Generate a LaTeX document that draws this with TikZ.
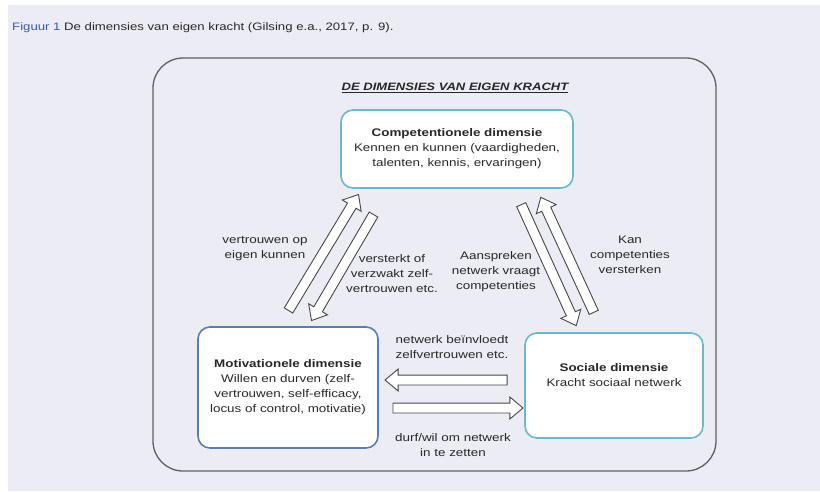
\documentclass[tikz,border=0pt]{standalone}
\usepackage{fontspec}
\setmainfont{Liberation Sans}[FakeStretch=1.22]
\usetikzlibrary{calc, shapes.arrows}

\definecolor{pagebg}{RGB}{236,236,245}
\definecolor{framegray}{RGB}{95,95,102}
\definecolor{cyanedge}{RGB}{104,186,206}
\definecolor{blueedge}{RGB}{84,128,182}
\definecolor{inkgray}{RGB}{40,40,40}
\definecolor{arrowgray}{RGB}{70,70,75}
\definecolor{figblue}{RGB}{60,90,170}

\tikzset{
	dimbox/.style = {draw, rounded corners = 12pt, line width = 1.6pt, fill = white, align = center, text = inkgray, font = \fontsize{11}{15}\selectfont},
	dimlabel/.style = {align = center, text = inkgray, font = \fontsize{11}{15}\selectfont, inner sep = 0pt},
	fat arrow/.style = {single arrow, draw = arrowgray, fill = white, line width = 0.9pt, inner xsep = 0pt, inner ysep = 4.5pt, single arrow head extend = 6pt, single arrow tip angle = 80, single arrow head indent = 0pt}
}

% block arrow from #1 to #2
\newcommand{\fatarrow}[2]{%
	\path let \p1 = ($ (#2) - (#1) $), \n1 = {atan2(\y1,\x1)}, \n2 = {veclen(\x1,\y1)} in
		node [fat arrow, minimum height = \n2, rotate = \n1] at ($ (#1)!0.5!(#2) $) {};}

\begin{document}
\begin{tikzpicture}[x = 1pt, y = -1pt]
		\useasboundingbox (0,0) rectangle (820,491);
		\fill [pagebg] (8,5) rectangle (820,491);
		
		\node (caption) [anchor = west, inner sep = 0pt, font = \fontsize{10.8}{13}\selectfont, text = inkgray] at (12,28) {\textcolor{figblue}{Figuur 1} De dimensies van eigen kracht (Gilsing e.a., 2017, p. 9).};
		
		\draw [framegray, line width = 1.3pt, rounded corners = 30pt] (153,58) rectangle (716,471);
		\node (title) [inner sep = 0pt, text = inkgray, font = \fontsize{10.7}{13}\selectfont\bfseries\itshape] at (455,88) {\underline{DE DIMENSIES VAN EIGEN KRACHT}};
		
		% the three dimensions
		\node (comp) [dimbox, draw = cyanedge, minimum width = 232pt, minimum height = 78pt] at (457,149) {\textbf{Competentionele dimensie}\\Kennen en kunnen (vaardigheden,\\talenten, kennis, ervaringen)};
		\node (motiv) [dimbox, draw = blueedge, minimum width = 180pt, minimum height = 121pt] at (288,387.5) {\textbf{Motivationele dimensie}\\Willen en durven (zelf-\\vertrouwen, self-efficacy,\\locus of control, motivatie)};
		\node (soc) [dimbox, draw = cyanedge, minimum width = 178pt, minimum height = 105pt] at (614,385.5) {\textbf{Sociale dimensie}\\Kracht sociaal netwerk\\[6pt]};
		
		% arrow ends
		\coordinate (mc tail) at (287,313);
		\coordinate (mc tip) at (357,197);
		\coordinate (cm tail) at (375,212);
		\coordinate (cm tip) at (313,318);
		\coordinate (cs tail) at (520,202);
		\coordinate (cs tip) at (575,323);
		\coordinate (sc tail) at (595,315);
		\coordinate (sc tip) at (542,200);
		\coordinate (sm tail) at (510,380);
		\coordinate (sm tip) at (388,380);
		\coordinate (ms tail) at (390,408);
		\coordinate (ms tip) at (520,408);
		
		\fatarrow{mc tail}{mc tip}
		\fatarrow{cm tail}{cm tip}
		\fatarrow{cs tail}{cs tip}
		\fatarrow{sc tail}{sc tip}
		\fatarrow{sm tail}{sm tip}
		\fatarrow{ms tail}{ms tip}
		
		\node (mc label) [dimlabel] at (265,249) {vertrouwen op\\eigen kunnen};
		\node (cm label) [dimlabel] at (392,274) {versterkt of\\verzwakt zelf-\\vertrouwen etc.};
		\node (cs label) [dimlabel] at (496,272) {Aanspreken\\netwerk vraagt\\competenties};
		\node (sc label) [dimlabel] at (630,255) {Kan\\competenties\\versterken};
		\node (sm label) [dimlabel] at (452,347) {netwerk beïnvloedt\\zelfvertrouwen etc.};
		\node (ms label) [dimlabel] at (453,445) {durf/wil om netwerk\\in te zetten};
	\end{tikzpicture}
\end{document}
